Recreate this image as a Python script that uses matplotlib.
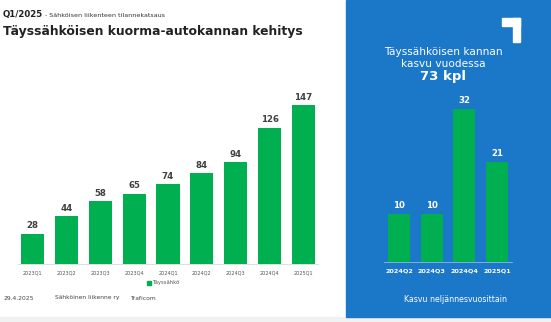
import matplotlib
matplotlib.use("Agg")
import matplotlib.pyplot as plt
from matplotlib.patches import Rectangle

# data
quarters = ['2023Q1', '2023Q2', '2023Q3', '2023Q4', '2024Q1',
            '2024Q2', '2024Q3', '2024Q4', '2025Q1']
stock = [28, 44, 58, 65, 74, 84, 94, 126, 147]
growth_q = ['2024Q2', '2024Q3', '2024Q4', '2025Q1']
growth = [10, 10, 32, 21]

GREEN = '#00b050'
BLUE = '#1b77c8'
W, H = 551, 322

fig = plt.figure(figsize=(W / 100, H / 100), dpi=100)
fig.patch.set_facecolor('white')

def px(x0, y0, x1, y1):
    # pixel box (top-left origin) -> figure fraction
    return [x0 / W, 1 - y1 / H, (x1 - x0) / W, (y1 - y0) / H]

# background pieces
fig.patches.append(Rectangle((0, 0), 1, 5 / H, transform=fig.transFigure,
                             color='#f1f1f1', zorder=-2))
fig.patches.append(Rectangle((346 / W, 5 / H), (W - 346) / W, 317 / H,
                             transform=fig.transFigure, color=BLUE, zorder=-2))
# corner logo
fig.patches.append(Rectangle((502 / W, 1 - 26 / H), 18 / W, 8 / H,
                             transform=fig.transFigure, color='white', zorder=-1))
fig.patches.append(Rectangle((513 / W, 1 - 42 / H), 7 / W, 24 / H,
                             transform=fig.transFigure, color='white', zorder=-1))

# titles
fig.text(3 / W, 1 - 15 / H, 'Q1/2025', fontsize=6.2, fontweight='bold',
         color='#222222', va='center')
fig.text(45 / W, 1 - 15.5 / H, '- Sähköisen liikenteen tilannekatsaus',
         fontsize=4.6, color='#333333', va='center')
fig.text(3 / W, 1 - 31 / H, 'Täyssähköisen kuorma-autokannan kehitys',
         fontsize=8.9, fontweight='bold', color='#222222', va='center')

# left chart
ax = fig.add_axes(px(18, 100, 318, 264))
x = range(len(quarters))
bars = ax.bar(x, stock, width=0.68, color=GREEN, zorder=2)
for b, v in zip(bars, stock):
    ax.text(b.get_x() + b.get_width() / 2, v + 3, str(v), ha='center',
            va='bottom', fontsize=6.2, fontweight='bold', color='#404040')
ax.set_xlim(-0.425, 8.425)
ax.set_ylim(0, 151.6)
ax.set_xticks(list(x))
ax.set_xticklabels(quarters, fontsize=3.6, color='#555555')
ax.tick_params(length=0, pad=5)
ax.set_yticks([])
for s in ['top', 'right', 'left']:
    ax.spines[s].set_visible(False)
ax.spines['bottom'].set_color('#d9d9d9')
ax.spines['bottom'].set_linewidth(0.6)
ax.set_facecolor('none')

# legend
fig.patches.append(Rectangle((147 / W, 1 - 284.5 / H), 4 / W, 4 / H,
                             transform=fig.transFigure, color=GREEN))
fig.text(153 / W, 1 - 282.5 / H, 'Täyssähkö', fontsize=3.8, color='#555555',
         va='center')

# footer
fig.text(3 / W, 1 - 298 / H, '29.4.2025', fontsize=4.3, color='#444444', va='center')
fig.text(55 / W, 1 - 298 / H, 'Sähköinen liikenne ry', fontsize=4.3,
         color='#444444', va='center')
fig.text(130 / W, 1 - 298 / H, 'Traficom', fontsize=4.3, color='#444444', va='center')

# right panel text
fig.text(443 / W, 1 - 52 / H, 'Täyssähköisen kannan', fontsize=7.6, color='white',
         ha='center', va='center')
fig.text(443 / W, 1 - 64 / H, 'kasvu vuodessa', fontsize=7.6, color='white',
         ha='center', va='center')
fig.text(443 / W, 1 - 77 / H, '73 kpl', fontsize=9.5, fontweight='bold',
         color='white', ha='center', va='center')

# right chart
ax2 = fig.add_axes(px(384, 100, 512, 262))
x2 = range(len(growth_q))
bars2 = ax2.bar(x2, growth, width=0.67, color=GREEN, zorder=2)
for b, v in zip(bars2, growth):
    ax2.text(b.get_x() + b.get_width() / 2, v + 0.8, str(v), ha='center',
             va='bottom', fontsize=6.2, fontweight='bold', color='white')
ax2.set_xlim(-0.457, 3.457)
ax2.set_ylim(0, 33.9)
ax2.set_xticks(list(x2))
ax2.set_xticklabels(growth_q, fontsize=4.6, fontweight='bold', color='white')
ax2.tick_params(length=0, pad=5)
ax2.set_yticks([])
for s in ['top', 'right', 'left']:
    ax2.spines[s].set_visible(False)
ax2.spines['bottom'].set_color('#8fb8e0')
ax2.spines['bottom'].set_linewidth(0.6)
ax2.set_facecolor('none')

fig.text(455 / W, 1 - 299 / H, 'Kasvu neljännesvuosittain', fontsize=5.6,
         color='white', ha='center', va='center')

fig.savefig('out.png', dpi=100)
